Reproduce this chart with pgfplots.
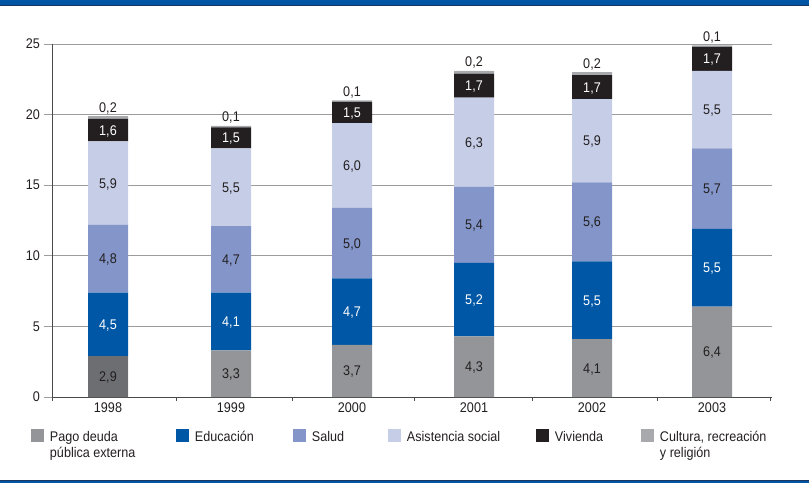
\documentclass[border=0pt]{standalone}
\usepackage{fontspec}
\setmainfont{Liberation Sans}[FakeStretch=0.9]
\usepackage{pgfplots}
\pgfplotsset{compat=1.18}
\usepackage{pgfplotstable}
\definecolor{pago}{HTML}{939598}
\definecolor{pagodark}{HTML}{6D6E71}
\definecolor{edu}{HTML}{0057A5}
\definecolor{salud}{HTML}{8395C9}
\definecolor{asis}{HTML}{C6CDE6}
\definecolor{viv}{HTML}{231F20}
\definecolor{cult}{HTML}{A7A9AC}
\definecolor{txt}{HTML}{231F20}
\definecolor{band}{HTML}{0055A5}
\definecolor{bandline}{HTML}{1A3560}
\definecolor{gridc}{HTML}{9C9C9C}
\definecolor{axisc}{HTML}{4A4A4A}

\pgfplotstableread{
x   pago edu salud asis viv cult
108 2.9  4.5 4.8   5.9  1.6 0.2
231 3.3  4.1 4.7   5.5  1.5 0.1
352 3.7  4.7 5.0   6.0  1.5 0.1
474 4.3  5.2 5.4   6.3  1.7 0.2
592 4.1  5.5 5.6   5.9  1.7 0.2
712 6.4  5.5 5.7   5.5  1.7 0.1
}\data

\newcommand{\fnt}{\fontsize{14}{16.2}\selectfont}

\pgfplotsset{
  /pgf/number format/assume math mode=true,
  sq/.style={legend image code/.code={\fill[##1] (0pt,-0.5pt) rectangle (13pt,12.5pt);}},
  lbl/.style={nodes near coords={\pgfmathprintnumber[fixed,fixed zerofill,precision=1,use comma]{\pgfplotspointmeta}},
     point meta=explicit},
  ctr/.style={lbl,
     every node near coord/.append style={anchor=base, yshift=-5pt, inner sep=0pt, font=\fnt}},
  ctrflat/.style={lbl,
     visualization depends on=rawy\as\rawy,
     every node near coord/.append style={shift={(axis direction cs:0,-\rawy/2)}, anchor=base, yshift=-5pt, inner sep=0pt, font=\fnt}},
  common/.style={scale only axis, width=720pt, height=353pt, at={(52pt,86pt)}, anchor=south west,
     xmin=52, xmax=772, ymin=0, ymax=25, bar width=40},
}

\begin{document}
\begin{tikzpicture}[font=\fnt]
\path[use as bounding box] (0,0) rectangle (809pt,483pt);
\begin{axis}[common,
  ybar stacked,
  axis x line*=bottom, axis y line*=left,
  axis line style={draw=axisc, line width=1pt},
  x axis line style={-}, y axis line style={-},
  tick align=outside,
  ytick={0,5,...,25},
  xtick={108,231,352,474,592,712},
  xticklabels={1998,1999,2000,2001,2002,2003},
  minor xtick={52,176,292,414,532,657,770},
  major x tick style={draw=none},
  minor x tick style={draw=axisc, line width=0.8pt},
  minor tick length=4pt,
  major tick length=8pt,
  ytick style={draw=gridc, line width=0.8pt},
  ymajorgrids,
  major grid style={draw=gridc, line width=0.8pt},
  tick label style={font=\fnt, text=txt},
  yticklabel style={anchor=east, inner sep=0pt, xshift=-4pt},
  xticklabel style={anchor=north, inner sep=0pt, yshift=2pt},
  legend columns=6,
  legend cell align=left,
  legend style={draw=none, fill=none, at={(axis description cs:-0.02917,-0.0907)}, anchor=north west,
     inner sep=0pt, outer sep=0pt, font=\fnt, text=txt,
     /tikz/every odd column/.append style={column sep=6pt},
     /tikz/every even column/.append style={column sep=0pt},
     nodes={inner sep=0pt, anchor=base west}},
]
\addplot[sq, fill=pago, draw=none, ctr, every node near coord/.append style={text=txt}]
  table[x=x, y=pago, meta=pago]{\data};
\addlegendentry{\parbox[t]{126pt}{Pago deuda\\pública externa}}
\addplot[sq, fill=edu, draw=none, ctr, every node near coord/.append style={text=white}]
  table[x=x, y=edu, meta=edu]{\data};
\addlegendentry{\parbox[t]{98pt}{Educación}}
\addplot[sq, fill=salud, draw=none, ctr, every node near coord/.append style={text=txt}]
  table[x=x, y=salud, meta=salud]{\data};
\addlegendentry{\parbox[t]{76pt}{Salud}}
\addplot[sq, fill=asis, draw=none, ctr, every node near coord/.append style={text=txt}]
  table[x=x, y=asis, meta=asis]{\data};
\addlegendentry{\parbox[t]{129pt}{Asistencia social}}
\addplot[sq, fill=viv, draw=none, ctr, every node near coord/.append style={text=white}]
  table[x=x, y=viv, meta=viv]{\data};
\addlegendentry{\parbox[t]{86pt}{Vivienda}}
\addplot[sq, fill=cult, draw=none, lbl,
  visualization depends on=rawy\as\rawy,
  every node near coord/.append style={shift={(axis direction cs:0,\rawy/2)}, anchor=base, yshift=4pt, inner sep=0pt, text=txt, font=\fnt}]
  table[x=x, y=cult, meta=cult]{\data};
\addlegendentry{\parbox[t]{130pt}{Cultura, recreación\\y religión}}
\end{axis}
\begin{axis}[common, hide axis, ybar]
\addplot[fill=pagodark, draw=none, ctrflat, every node near coord/.append style={text=txt}]
  table[x=x, y=v, meta=v, row sep=\\]{x v\\108 2.9\\};
\end{axis}
\fill[band] (0,478pt) rectangle (809pt,483pt);
\fill[bandline] (0,477pt) rectangle (809pt,478pt);
\fill[band] (0,0) rectangle (809pt,2pt);
\fill[bandline] (0,2pt) rectangle (809pt,3pt);
\end{tikzpicture}
\end{document}
